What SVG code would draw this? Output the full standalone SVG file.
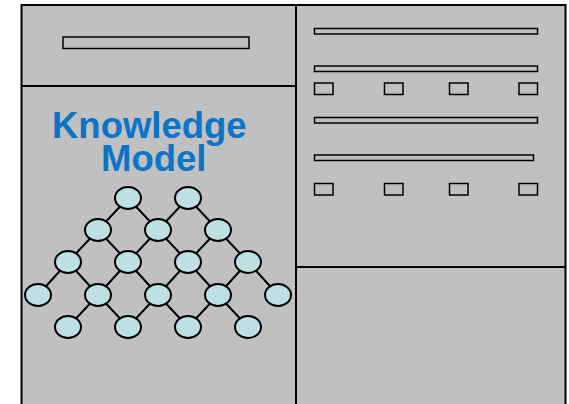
<svg xmlns="http://www.w3.org/2000/svg" width="569" height="404" viewBox="0 0 569 404">
<style>
.panel{fill:#c0c0c0;stroke:#000;stroke-width:2}
.bar{fill:#c0c0c0;stroke:#000;stroke-width:1.5}
.node{fill:#bde0e3;stroke:#000;stroke-width:2}
.edge{stroke:#000;stroke-width:2;fill:none}
.title{font-family:"Liberation Sans",Arial,sans-serif;font-weight:bold;font-size:36.5px;fill:#0a74c8}
</style>
<rect width="569" height="404" fill="#fff"/>
<g id="left-panel">
<rect class="panel" x="21.5" y="5" width="274.5" height="405"/>
<line x1="21.5" y1="86" x2="296" y2="86" stroke="#000" stroke-width="2"/>
<rect class="bar" x="63" y="37" width="186" height="11.5"/>
<text class="title"><tspan x="52" y="137.5">Knowledge</tspan><tspan x="101" y="171">Model</tspan></text>
</g>
<g id="right-panel">
<rect class="panel" x="296" y="5" width="269.5" height="405"/>
<line x1="296" y1="267" x2="565.5" y2="267" stroke="#000" stroke-width="2"/>
<rect class="bar" x="314.5" y="28.5" width="223" height="5.5"/>
<rect class="bar" x="314.5" y="66" width="223" height="5.5"/>
<rect class="bar" x="314.5" y="117.5" width="223" height="5.5"/>
<rect class="bar" x="314.5" y="155" width="219" height="5.5"/>
<rect class="bar" x="314.5" y="83" width="18.5" height="11.5"/>
<rect class="bar" x="384.5" y="83" width="18.5" height="11.5"/>
<rect class="bar" x="449.5" y="83" width="18.5" height="11.5"/>
<rect class="bar" x="519" y="83" width="18.5" height="11.5"/>
<rect class="bar" x="314.5" y="183.5" width="18.5" height="11.5"/>
<rect class="bar" x="384.5" y="183.5" width="18.5" height="11.5"/>
<rect class="bar" x="449.5" y="183.5" width="18.5" height="11.5"/>
<rect class="bar" x="519" y="183.5" width="18.5" height="11.5"/>
</g>
<g id="connectors" class="edge">
<path d="M128 198L98 230M128 198L158 230M188 198L158 230M188 198L218 230"/>
<path d="M98 230L68 262M98 230L128 262M158 230L128 262M158 230L188 262M218 230L188 262M218 230L248 262"/>
<path d="M68 262L38 295M68 262L98 295M128 262L98 295M128 262L158 295M188 262L158 295M188 262L218 295M248 262L218 295M248 262L278 295"/>
<path d="M98 295L68 327M98 295L128 327M158 295L128 327M158 295L188 327M218 295L188 327M218 295L248 327"/>
</g>
<g id="nodes">
<ellipse id="n1" class="node" cx="128" cy="198" rx="13" ry="11"/>
<ellipse id="n2" class="node" cx="188" cy="198" rx="13" ry="11"/>
<ellipse id="n3" class="node" cx="98" cy="230" rx="13" ry="11"/>
<ellipse id="n4" class="node" cx="158" cy="230" rx="13" ry="11"/>
<ellipse id="n5" class="node" cx="218" cy="230" rx="13" ry="11"/>
<ellipse id="n6" class="node" cx="68" cy="262" rx="13" ry="11"/>
<ellipse id="n7" class="node" cx="128" cy="262" rx="13" ry="11"/>
<ellipse id="n8" class="node" cx="188" cy="262" rx="13" ry="11"/>
<ellipse id="n9" class="node" cx="248" cy="262" rx="13" ry="11"/>
<ellipse id="n10" class="node" cx="38" cy="295" rx="13" ry="11"/>
<ellipse id="n11" class="node" cx="98" cy="295" rx="13" ry="11"/>
<ellipse id="n12" class="node" cx="158" cy="295" rx="13" ry="11"/>
<ellipse id="n13" class="node" cx="218" cy="295" rx="13" ry="11"/>
<ellipse id="n14" class="node" cx="278" cy="295" rx="13" ry="11"/>
<ellipse id="n15" class="node" cx="68" cy="327" rx="13" ry="11"/>
<ellipse id="n16" class="node" cx="128" cy="327" rx="13" ry="11"/>
<ellipse id="n17" class="node" cx="188" cy="327" rx="13" ry="11"/>
<ellipse id="n18" class="node" cx="248" cy="327" rx="13" ry="11"/>
</g>
</svg>
